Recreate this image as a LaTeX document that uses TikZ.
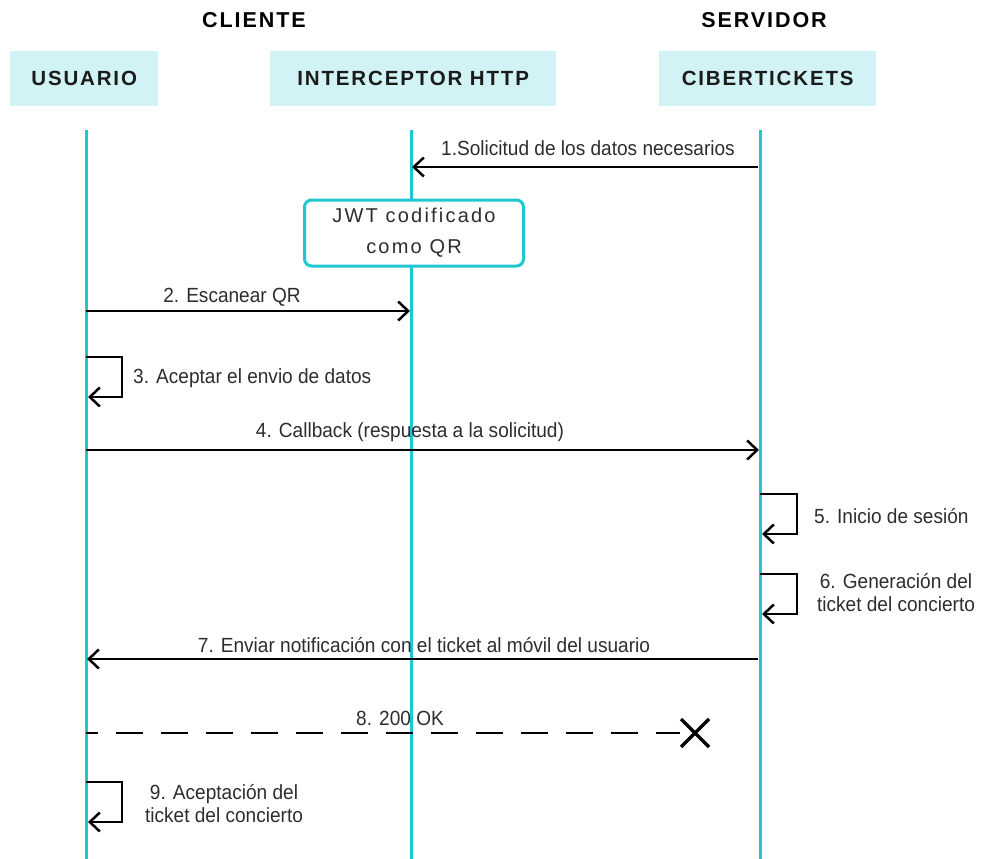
\documentclass[tikz,border=0pt]{standalone}
\usepackage{fontspec}
\setmainfont{Liberation Sans}[FakeStretch=0.93]
\newfontfamily\headfont{Liberation Sans}[LetterSpace=9]
\newfontfamily\notefont{Liberation Sans}[LetterSpace=11]
\usetikzlibrary{arrows.meta}
\definecolor{lifecol}{RGB}{30,200,206}
\definecolor{headfill}{RGB}{210,243,245}
\definecolor{txt}{RGB}{45,45,45}
\tikzset{
  lifeline/.style={draw=lifecol, line width=3pt},
  head/.style={fill=headfill, minimum height=55pt, text=txt!60!black,
    font=\headfont\bfseries\fontsize{20.5}{22}\selectfont, anchor=north west},
  side/.style={text=black, font=\headfont\bfseries\fontsize{21.5}{23}\selectfont},
  msg/.style={draw=black, line width=2.5pt, -{Straight Barb[length=10pt,width=19pt,line width=2.5pt]}},
  lbl/.style={text=txt, font=\fontsize{20.5}{23}\selectfont, inner sep=1pt},
  note/.style={draw=lifecol, line width=3pt, rounded corners=7pt, fill=white,
    text=txt, font=\notefont\fontsize{20}{31}\selectfont, align=center,
    minimum width=219pt, minimum height=66pt},
}
\begin{document}
\begin{tikzpicture}[x=1pt,y=-1pt]
  \useasboundingbox (0,0) rectangle (983,859);

  % group titles
  \node[side] (cli) at (254,20) {CLIENTE};
  \node[side] (srv) at (764,20) {SERVIDOR};

  % participant headers
  \node[head, minimum width=148pt] (usr) at (10,51) {USUARIO};
  \node[head, minimum width=286pt] (http) at (270,51) {INTERCEPTOR HTTP};
  \node[head, minimum width=217pt] (cib) at (659,51) {CIBERTICKETS};

  % lifelines
  \coordinate (uT) at (86,130);  \coordinate (uB) at (86,859);
  \coordinate (hT) at (411,130); \coordinate (hB) at (411,859);
  \coordinate (cT) at (760,130); \coordinate (cB) at (760,859);
  \draw[lifeline] (uT) -- (uB);
  \draw[lifeline] (hT) -- (hB);
  \draw[lifeline] (cT) -- (cB);

  % 1
  \coordinate (m1s) at (758,167); \coordinate (m1e) at (412,167);
  \draw[msg] (m1s) -- (m1e);
  \node[lbl] (l1) at (588,148) {1.Solicitud de los datos necesarios};

  % note
  \node[note] (jwt) at (414,233) {JWT codificado\\como QR};

  % 2
  \coordinate (m2s) at (86,311); \coordinate (m2e) at (410,311);
  \draw[msg] (m2s) -- (m2e);
  \node[lbl] (l2) at (232,297) {2. Escanear QR};

  % 3 (self)
  \coordinate (m3s) at (86,357); \coordinate (m3c) at (122,397); \coordinate (m3e) at (88,397);
  \draw[msg] (m3s) -| (m3c) -- (m3e);
  \node[lbl, anchor=west] (l3) at (132,378) {3. Aceptar el envio de datos};

  % 4
  \coordinate (m4s) at (86,450); \coordinate (m4e) at (759,450);
  \draw[msg] (m4s) -- (m4e);
  \node[lbl] (l4) at (410,432) {4. Callback (respuesta a la solicitud)};

  % 5 (self)
  \coordinate (m5s) at (760,494); \coordinate (m5c) at (797,534); \coordinate (m5e) at (762,534);
  \draw[msg] (m5s) -| (m5c) -- (m5e);
  \node[lbl, anchor=west] (l5) at (813,516) {5. Inicio de sesión};

  % 6 (self)
  \coordinate (m6s) at (760,574); \coordinate (m6c) at (797,614); \coordinate (m6e) at (762,614);
  \draw[msg] (m6s) -| (m6c) -- (m6e);
  \node[lbl, align=center] (l6) at (896,593) {6. Generación del\\ticket del concierto};

  % 7
  \coordinate (m7s) at (758,659); \coordinate (m7e) at (87,659);
  \draw[msg] (m7s) -- (m7e);
  \node[lbl] (l7) at (424,645) {7. Enviar notificación con el ticket al móvil del usuario};

  % 8 (lost reply)
  \coordinate (m8s) at (86,733); \coordinate (m8d) at (680,733); \coordinate (m8x) at (695,733);
  \draw[black, line width=2.6pt, dash pattern=on 27pt off 18pt, dash phase=15pt] (m8s) -- (m8d);
  \draw[black, line width=3.5pt] ([shift={(-14,-14)}]m8x) -- ([shift={(14,14)}]m8x)
    ([shift={(-14,14)}]m8x) -- ([shift={(14,-14)}]m8x);
  \node[lbl] (l8) at (400,718) {8. 200 OK};

  % 9 (self)
  \coordinate (m9s) at (86,782); \coordinate (m9c) at (122,822); \coordinate (m9e) at (88,822);
  \draw[msg] (m9s) -| (m9c) -- (m9e);
  \node[lbl, align=center] (l9) at (224,804) {9. Aceptación del\\ticket del concierto};
\end{tikzpicture}
\end{document}
